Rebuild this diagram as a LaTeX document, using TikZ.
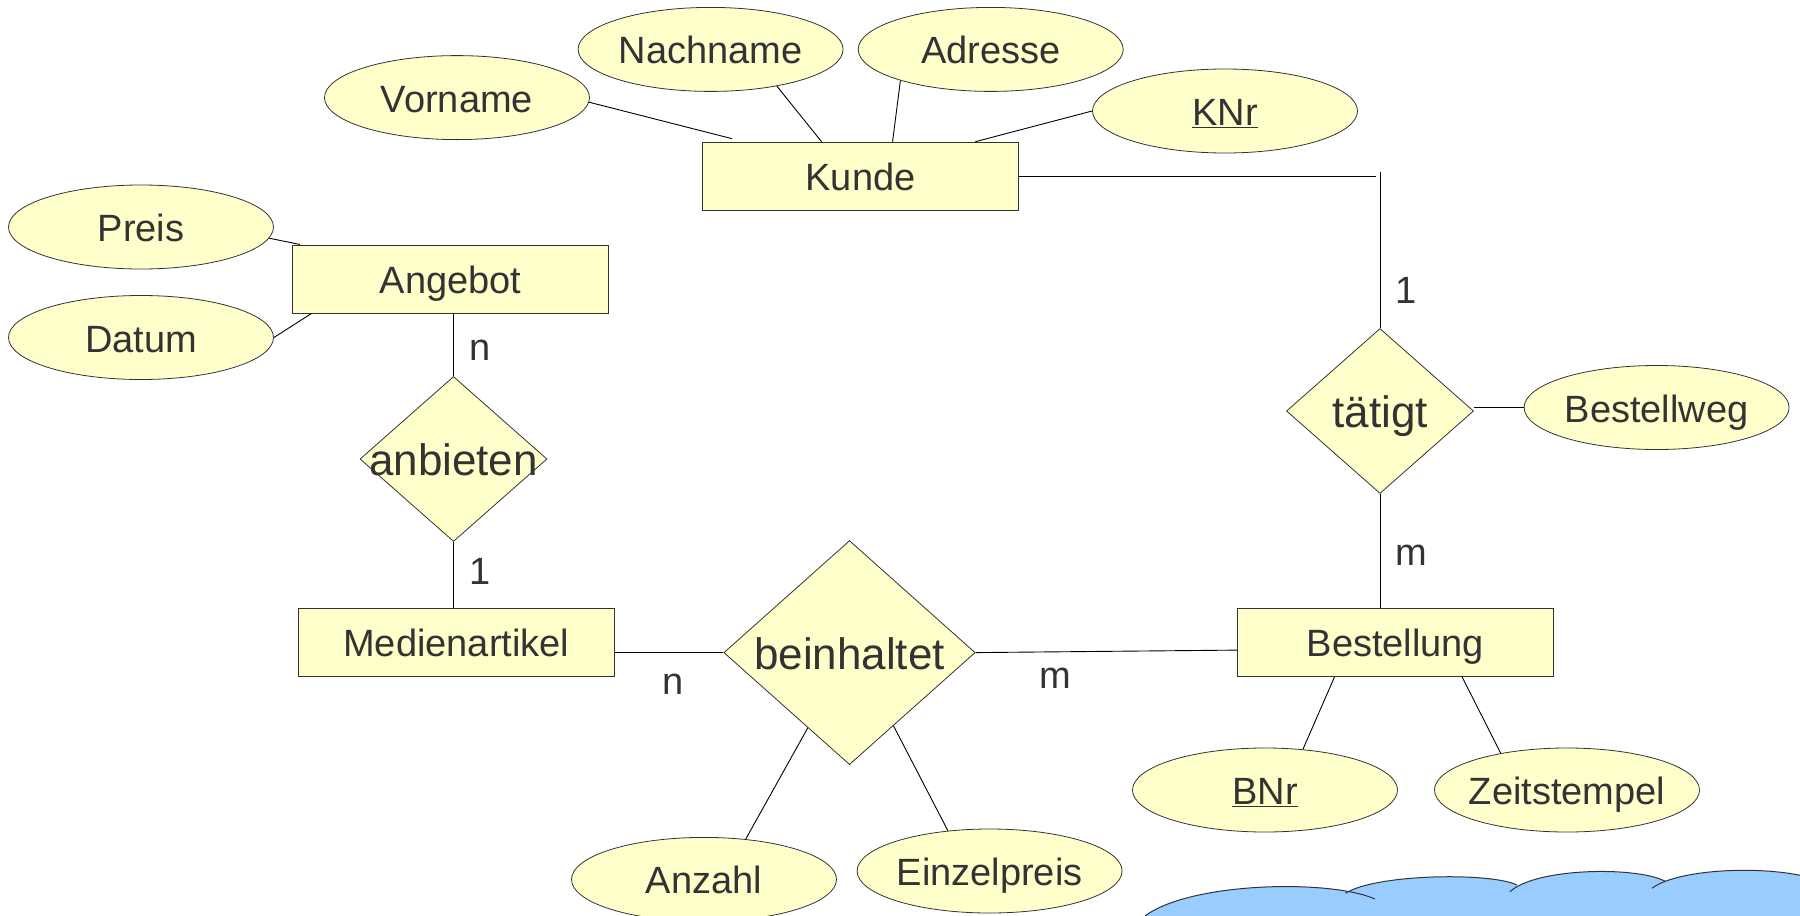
\documentclass[tikz,border=0pt]{standalone}
\usepackage{fontspec}
\setmainfont{Liberation Sans}
\usetikzlibrary{shapes.geometric}
\definecolor{erfill}{HTML}{FFFFCC}
\definecolor{ertext}{HTML}{333333}
\definecolor{cloudblue}{HTML}{99CCFF}

\begin{document}
\begin{tikzpicture}[x=1pt,y=-1pt,
  every node/.style={text=ertext, font=\fontsize{38}{40}\selectfont},
  entity/.style={draw=ertext, fill=erfill, rectangle, minimum width=315.7pt,
    minimum height=68pt, inner sep=0pt, line width=1pt,
    text height=30pt, text depth=1pt},
  attr/.style={draw=ertext, fill=erfill, ellipse, minimum width=265pt,
    minimum height=84pt, inner sep=0pt, inner xsep=-14pt, line width=0.8pt,
    text height=30pt, text depth=1pt},
  rel/.style={draw=ertext, fill=erfill, diamond, inner sep=0pt,
    minimum width=187pt, minimum height=165pt,
    font=\fontsize{44}{46}\selectfont, line width=0.8pt,
    text height=34pt, text depth=1pt},
  link/.style={draw=black, line width=0.9pt},
  card/.style={inner sep=0pt},
  bump/.style={draw=black!80, line width=1pt}]

\useasboundingbox (0,0) rectangle (1800,916);

% entities
\node[entity] (kunde) at (860.5,176.2) {Kunde};
\node[entity] (angebot) at (450.5,279) {Angebot};
\node[entity] (medien) at (456.3,642.3) {Medienartikel};
\node[entity] (bestellung) at (1395.4,642.3) {Bestellung};

% attributes
\node[attr] (vorname) at (457,97.6) {Vorname};
\node[attr] (nachname) at (710.6,49.4) {Nachname};
\node[attr] (adresse) at (990.7,49.4) {Adresse};
\node[attr] (knr) at (1225,111) {\underline{KNr}};
\node[attr] (preis) at (141,227) {Preis};
\node[attr] (datum) at (141,337.5) {Datum};
\node[attr] (bestellweg) at (1656.6,407.5) {Bestellweg};
\node[attr] (bnr) at (1265,790) {\underline{BNr}};
\node[attr] (zeitstempel) at (1567,790) {Zeitstempel};
\node[attr] (anzahl) at (704,879.4) {Anzahl};
\node[attr] (einzelpreis) at (989.6,871) {Einzelpreis};

% relationships
\node[rel] (anbieten) at (453.5,459) {\makebox[0pt]{anbieten}};
\node[rel] (taetigt) at (1380,411) {\makebox[0pt]{tätigt}};
\node[rel, minimum width=251.4pt, minimum height=224pt] (beinh) at (849.5,652.6)
  {\makebox[0pt]{beinhaltet}};

% attribute links
\draw[link] (vorname.-2) -- ([xshift=30pt,yshift=3pt]kunde.north west);
\draw[link] (nachname.-29) -- ([xshift=119.4pt]kunde.north west);
\draw[link] (adresse.-161) -- ([xshift=190.4pt]kunde.north west);
\draw[link] (knr.west) -- ([xshift=273.2pt]kunde.north west);
\draw[link] (preis.-5) -- ([xshift=8pt]angebot.north west);
\draw[link] (datum.east) -- ([xshift=19.3pt]angebot.south west);
\draw[link] (bestellweg.west) -- (bestellweg.west -| taetigt.east);
\draw[link] ([xshift=97.5pt]bestellung.south west) -- (bnr.47);
\draw[link] ([xshift=225pt]bestellung.south west) -- (zeitstempel.151);
\draw[link] (beinh.241) -- (anzahl.44);
\draw[link] (beinh.-59) -- (einzelpreis.136);

% relationship links
\draw[link] (anbieten.north) -- (anbieten.north |- angebot.south);
\draw[link] (anbieten.south) -- (anbieten.south |- medien.north);
\draw[link] (beinh.west) -- (beinh.west -| medien.east);
\draw[link] (beinh.east) -- ([yshift=2.5pt]beinh.east -| bestellung.west);
\draw[link] (taetigt.south) -- (taetigt.south |- bestellung.north);
\coordinate (elbow) at (1376,176.2);
\coordinate (elbowtop) at (1380,172);
\draw[link] (kunde.east) -- (elbow);
\draw[link] (elbowtop) -- (taetigt.north);

% cardinalities
\node[card] (cAng) at (480,350) {n};
\node[card] (cMed) at (480,571.5) {1};
\node[card] (cMedB) at (672.7,684.5) {n};
\node[card] (cBesB) at (1055,678.5) {m};
\node[card] (cKun) at (1406,290.4) {1};
\node[card] (cBes) at (1411,555) {m};

% cloud in the lower right corner
\begin{scope}
  \clip (0,0) rectangle (1800,916);
  \fill[cloudblue] (1145,916) .. controls (1190,882) and (1330,879) .. (1375,899) -- (1375,940) -- (1145,940) -- cycle;
  \fill[cloudblue] (1345.5,893.3) .. controls (1375,874) and (1490,872) .. (1517,885) -- (1517,940) -- (1345.5,940) -- cycle;
  \fill[cloudblue] (1510,891.7) .. controls (1535,868) and (1635,866) .. (1664.7,881) -- (1664.7,940) -- (1510,940) -- cycle;
  \fill[cloudblue] (1652,888.3) .. controls (1680,866) and (1800,862) .. (1840,890) -- (1840,940) -- (1652,940) -- cycle;
  \draw[bump] (1145,916) .. controls (1190,882) and (1330,879) .. (1375,899);
  \draw[bump] (1345.5,893.3) .. controls (1375,874) and (1490,872) .. (1517,885);
  \draw[bump] (1510,891.7) .. controls (1535,868) and (1635,866) .. (1664.7,881);
  \draw[bump] (1652,888.3) .. controls (1680,866) and (1800,862) .. (1840,890);
\end{scope}
\end{tikzpicture}
\end{document}
